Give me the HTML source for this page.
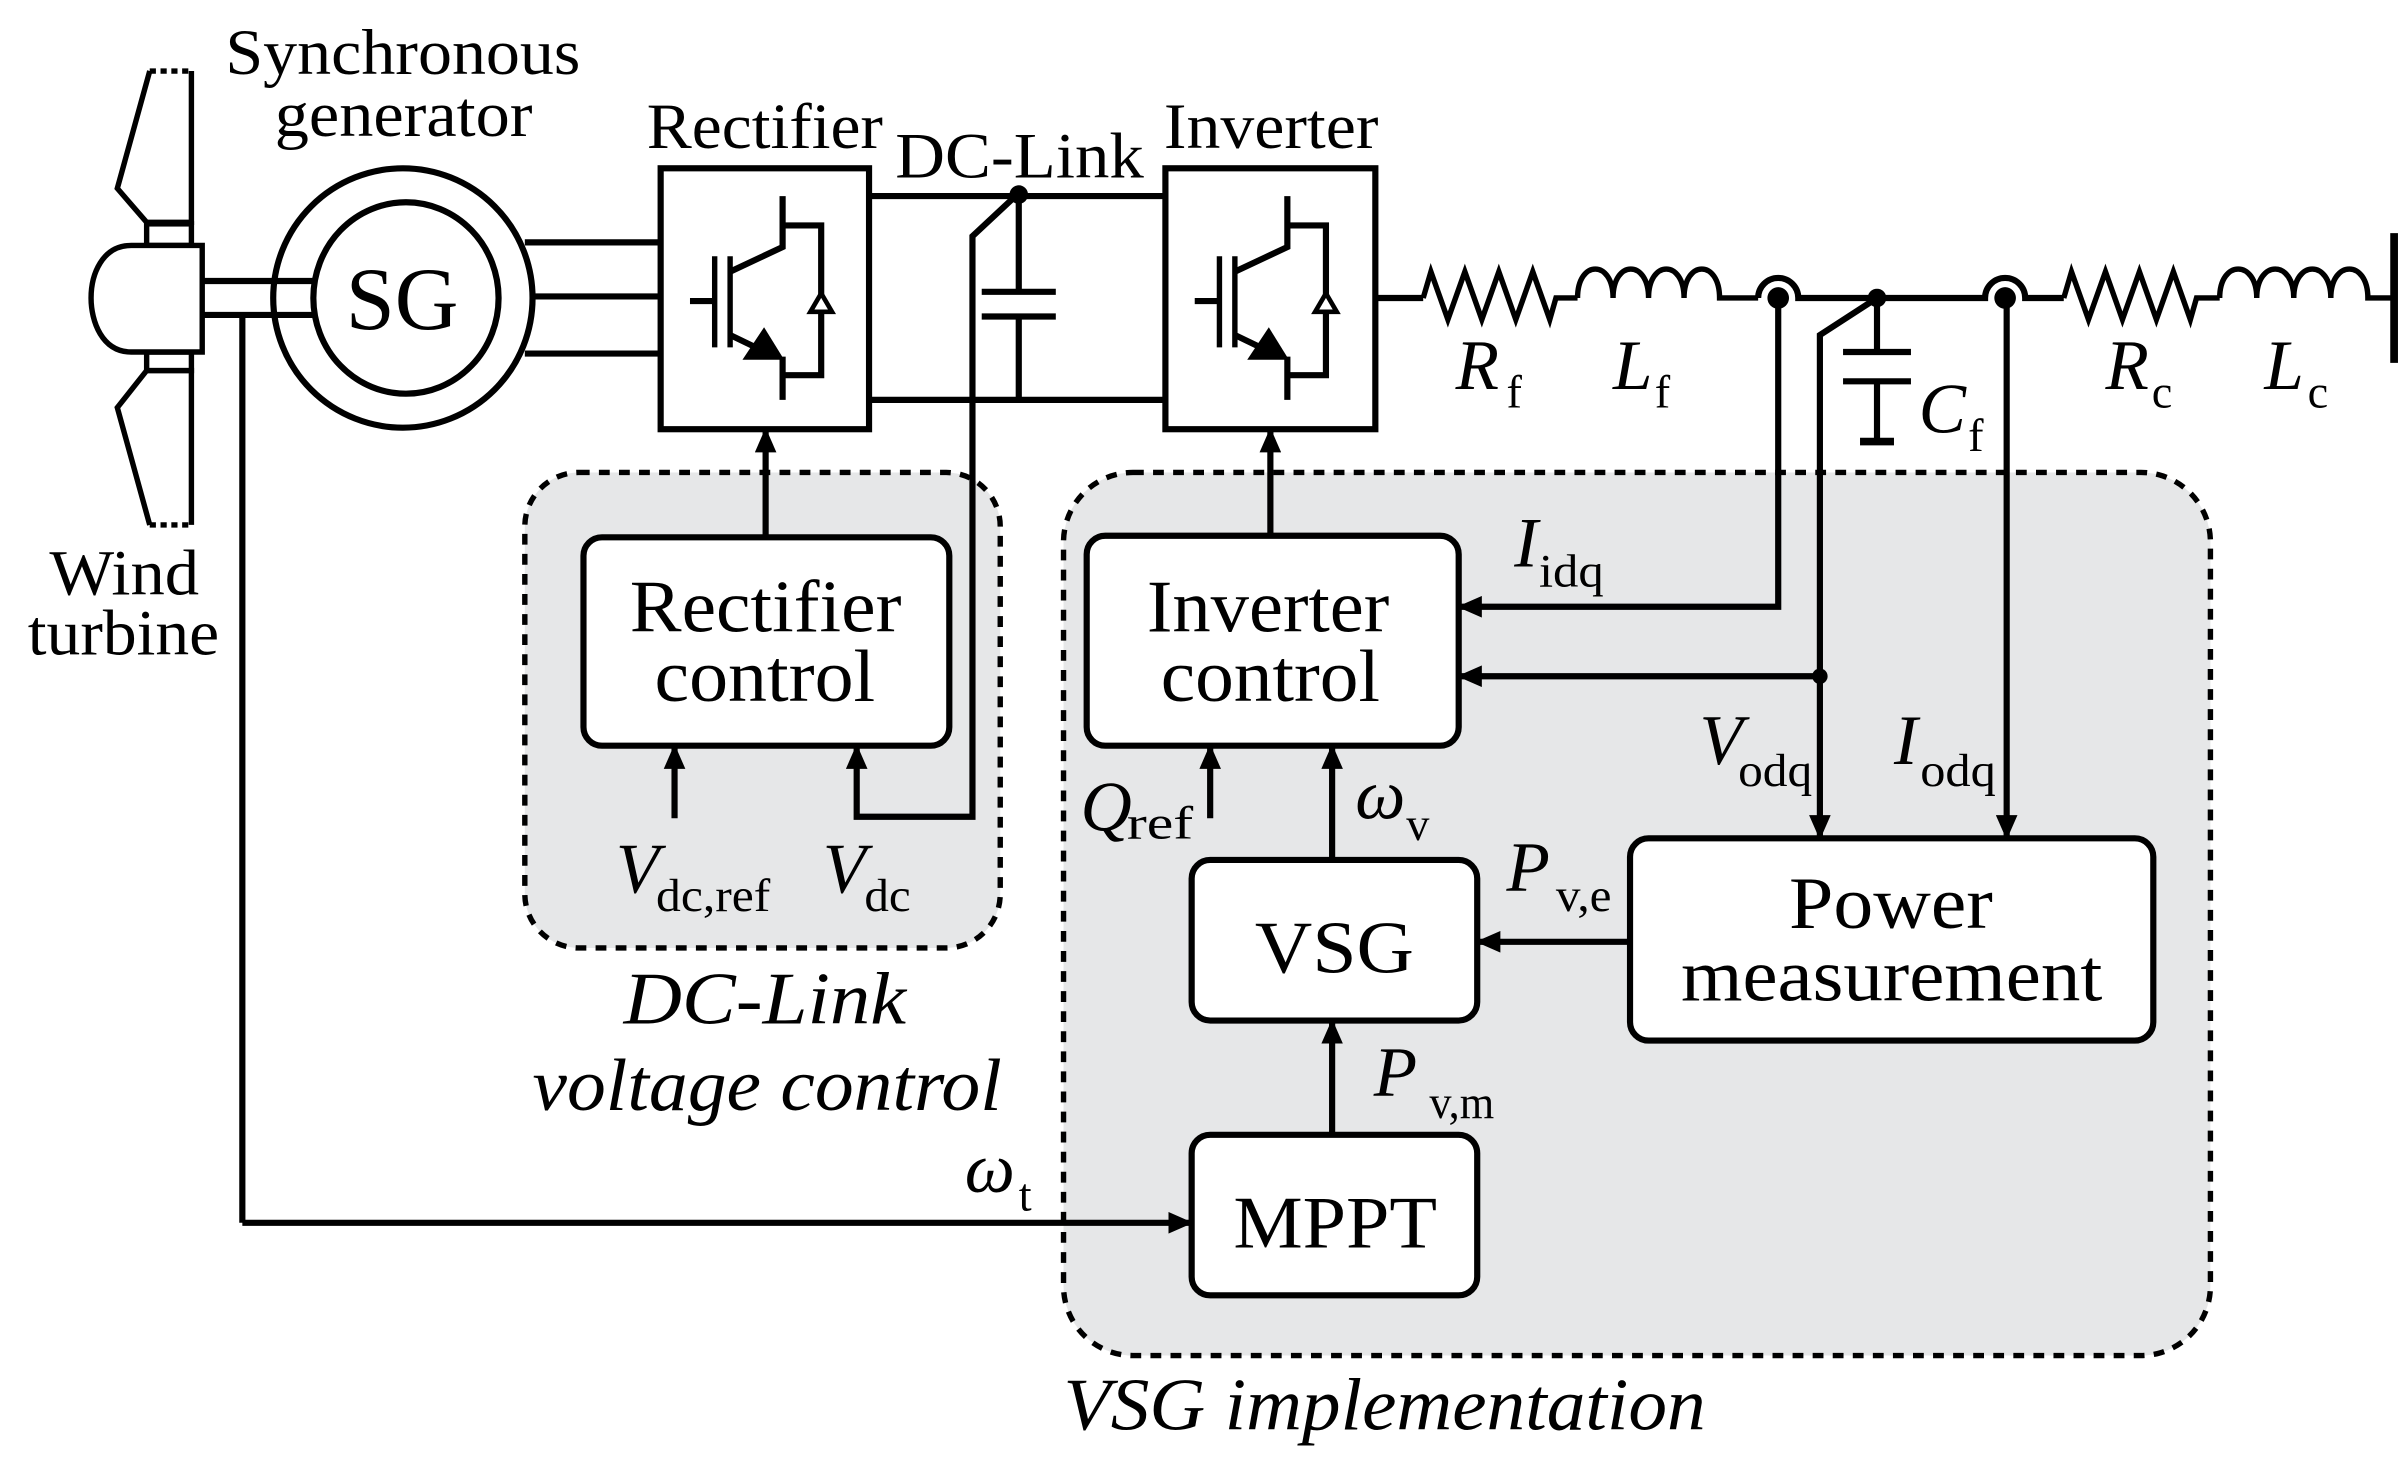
<!DOCTYPE html>
<html><head><meta charset="utf-8"><style>
html,body{margin:0;padding:0;background:#fff;}
svg{display:block;}
text{font-family:"Liberation Serif","Times New Roman",serif;fill:#000;}
</style></head><body>
<svg width="2408" height="1459" viewBox="0 0 1560 945" preserveAspectRatio="none" xmlns="http://www.w3.org/2000/svg">
<defs>
<marker id="ar" markerWidth="16" markerHeight="14" refX="15" refY="7" orient="auto" markerUnits="userSpaceOnUse"><path d="M0,0 L16,7 L0,14 z" fill="#000"/></marker>
<g id="igbt" stroke="#000" stroke-width="4" fill="none">
<line x1="447" y1="195" x2="463" y2="195"/>
<line x1="463" y1="166" x2="463" y2="225" stroke-width="3.5"/>
<line x1="473" y1="166" x2="473" y2="225" stroke-width="3.5"/>
<polyline points="473,176 507,160 507,127"/>
<polyline points="473,217 500,230"/>
<line x1="507" y1="231" x2="507" y2="259"/>
<polyline points="507,146 532,146 532,243 507,243"/>
<polygon points="481,233 508,233 495,212" fill="#000" stroke="none"/>
<polygon points="525,202 539,202 532,190" fill="#fff" stroke-width="3"/>
</g>
</defs>
<g stroke="#000" stroke-width="4" fill="none">
<!-- regions -->
<rect x="340" y="306" width="308" height="308" rx="35" fill="#e6e7e8" stroke-dasharray="7,6" stroke-width="3.5"/>
<rect x="689" y="306" width="743" height="572" rx="45" fill="#e6e7e8" stroke-dasharray="7,6" stroke-width="3.5"/>
<!-- turbine -->
<polyline points="97,46 76,122 95,144 124,144 124,46" stroke-width="3.5"/>
<line x1="97" y1="46" x2="124" y2="46" stroke-dasharray="4,3" stroke-width="3.5"/>
<polyline points="97,340 76,264 95,240 124,240 124,340" stroke-width="3.5"/>
<line x1="97" y1="340" x2="124" y2="340" stroke-dasharray="4,3" stroke-width="3.5"/>
<rect x="95" y="145" width="29" height="14" stroke-width="3.5" fill="#fff"/>
<rect x="95" y="228" width="29" height="12" stroke-width="3.5" fill="#fff"/>
<path d="M131,159 L85,159 C66,159 59,178 59,193 C59,208 66,228 85,228 L131,228 Z" fill="#fff" stroke-width="3.5"/>
<line x1="131" y1="182" x2="203" y2="182"/>
<line x1="131" y1="204" x2="203" y2="204"/>
<line x1="157" y1="204" x2="157" y2="792"/>
<polyline points="157,792 772,792" marker-end="url(#ar)"/>
<!-- SG -->
<ellipse cx="261" cy="193" rx="84" ry="84" fill="none"/>
<ellipse cx="263" cy="193" rx="60" ry="62" fill="#fff"/>
<line x1="340" y1="157" x2="428" y2="157"/>
<line x1="345" y1="192" x2="428" y2="192"/>
<line x1="340" y1="229" x2="428" y2="229"/>
<!-- rectifier / inverter -->
<rect x="428" y="109" width="135" height="169"/>
<rect x="755" y="109" width="136" height="169"/>
<line x1="563" y1="127" x2="755" y2="127"/>
<line x1="563" y1="259" x2="755" y2="259"/>
<line x1="660" y1="125" x2="660" y2="189"/>
<line x1="636" y1="189" x2="684" y2="189"/>
<line x1="636" y1="205" x2="684" y2="205"/>
<line x1="660" y1="205" x2="660" y2="259"/>
<polyline points="660,125 630,153 630,529 555,529 555,483" marker-end="url(#ar)"/>
<line x1="437" y1="530" x2="437" y2="483" marker-end="url(#ar)"/>
<line x1="496" y1="348" x2="496" y2="278" marker-end="url(#ar)"/>
<line x1="823" y1="347" x2="823" y2="278" marker-end="url(#ar)"/>
<!-- line -->
<line x1="891" y1="193" x2="922" y2="193"/>
<polyline points="922,193 927,176 938,207 949,176 960,207 971,176 982,207 993,176 1004,207 1008,193 1022,193" stroke-width="3.5"/>
<path d="M1022,193 C1022,168 1045,168 1045,193 C1045,168 1068,168 1068,193 C1068,168 1091,168 1091,193 C1091,168 1114,168 1114,193 L1139,193" stroke-width="3.5"/>
<path d="M1139,193 A13,13 0 0 1 1165,193 L1286,193 A13,13 0 0 1 1312,193 L1337,193"/>
<polyline points="1337,193 1342,176 1353,207 1364,176 1375,207 1386,176 1397,207 1408,176 1419,207 1423,193 1438,193" stroke-width="3.5"/>
<path d="M1438,193 C1438,168 1462,168 1462,193 C1462,168 1486,168 1486,193 C1486,168 1510,168 1510,193 C1510,168 1534,168 1534,193 L1551,193" stroke-width="3.5"/>
<line x1="1551" y1="151" x2="1551" y2="235" stroke-width="5"/>
<line x1="1216" y1="193" x2="1216" y2="228"/>
<line x1="1194" y1="228" x2="1238" y2="228"/>
<line x1="1194" y1="247" x2="1238" y2="247"/>
<line x1="1216" y1="247" x2="1216" y2="286"/>
<line x1="1205" y1="286" x2="1227" y2="286" stroke-width="5"/>
<!-- feedback -->
<polyline points="1152,193 1152,393 945,393" marker-end="url(#ar)"/>
<polyline points="1216,193 1179,217 1179,543" marker-end="url(#ar)"/>
<line x1="1179" y1="438" x2="945" y2="438" marker-end="url(#ar)"/>
<line x1="1300" y1="193" x2="1300" y2="543" marker-end="url(#ar)"/>
<!-- control boxes -->
<rect x="378" y="348" width="237" height="135" rx="12" fill="#fff"/>
<rect x="704" y="347" width="241" height="136" rx="12" fill="#fff"/>
<rect x="1056" y="543" width="339" height="131" rx="12" fill="#fff"/>
<rect x="772" y="557" width="185" height="104" rx="12" fill="#fff"/>
<rect x="772" y="735" width="185" height="104" rx="12" fill="#fff"/>
<line x1="1056" y1="610" x2="957" y2="610" marker-end="url(#ar)"/>
<line x1="863" y1="557" x2="863" y2="483" marker-end="url(#ar)"/>
<line x1="784" y1="530" x2="784" y2="483" marker-end="url(#ar)"/>
<line x1="863" y1="735" x2="863" y2="661" marker-end="url(#ar)"/>
</g>
<g fill="#000">
<circle cx="660" cy="126" r="6"/>
<circle cx="1152" cy="193" r="7"/>
<circle cx="1216" cy="193" r="6"/>
<circle cx="1299" cy="193" r="7"/>
<circle cx="1179" cy="438" r="5"/>
</g>
<use href="#igbt"/>
<use href="#igbt" transform="translate(327,0)"/>
<!-- text -->
<g font-size="42" lengthAdjust="spacingAndGlyphs">
<text x="146" y="48" textLength="230" lengthAdjust="spacingAndGlyphs">Synchronous</text>
<text x="178" y="88" textLength="167" lengthAdjust="spacingAndGlyphs">generator</text>
<text x="419" y="96" textLength="153" lengthAdjust="spacingAndGlyphs">Rectifier</text>
<text x="580" y="115" textLength="161" lengthAdjust="spacingAndGlyphs">DC-Link</text>
<text x="754" y="96" textLength="139" lengthAdjust="spacingAndGlyphs">Inverter</text>
<text x="32" y="385" textLength="97" lengthAdjust="spacingAndGlyphs">Wind</text>
<text x="18" y="424" textLength="124" lengthAdjust="spacingAndGlyphs">turbine</text>
</g>
<text x="224" y="213" font-size="58" textLength="73" lengthAdjust="spacingAndGlyphs">SG</text>
<g font-size="48">
<text x="408" y="409" textLength="176" lengthAdjust="spacingAndGlyphs">Rectifier</text>
<text x="424" y="454" textLength="143" lengthAdjust="spacingAndGlyphs">control</text>
<text x="743" y="409" textLength="157" lengthAdjust="spacingAndGlyphs">Inverter</text>
<text x="752" y="454" textLength="142" lengthAdjust="spacingAndGlyphs">control</text>
<text x="1159" y="601" textLength="132" lengthAdjust="spacingAndGlyphs">Power</text>
<text x="1089" y="648" textLength="273" lengthAdjust="spacingAndGlyphs">measurement</text>
<text x="813" y="630" textLength="103" lengthAdjust="spacingAndGlyphs">VSG</text>
<text x="799" y="808" textLength="132" lengthAdjust="spacingAndGlyphs">MPPT</text>
<text x="404" y="663" font-style="italic" textLength="183" lengthAdjust="spacingAndGlyphs">DC-Link</text>
<text x="345" y="719" font-style="italic" textLength="304" lengthAdjust="spacingAndGlyphs">voltage control</text>
<text x="689" y="926" font-style="italic" textLength="416" lengthAdjust="spacingAndGlyphs">VSG implementation</text>
</g>
<g font-size="46" font-style="italic">
<text x="943" y="252">R</text>
<text x="1045" y="252">L</text>
<text x="1243" y="280">C</text>
<text x="1364" y="252">R</text>
<text x="1467" y="252">L</text>
<text x="399" y="578">V</text>
<text x="533" y="578">V</text>
<text x="981" y="367">I</text>
<text x="1101" y="495">V</text>
<text x="1227" y="495">I</text>
<text x="700" y="538">Q</text>
<text x="878" y="530">ω</text>
<text x="976" y="577">P</text>
<text x="890" y="710">P</text>
<text x="625" y="772">ω</text>
</g>
<g font-size="30">
<text x="976" y="264">f</text>
<text x="1072" y="264">f</text>
<text x="1275" y="292">f</text>
<text x="1394" y="264">c</text>
<text x="1495" y="264">c</text>
<text x="425" y="590" textLength="74" lengthAdjust="spacingAndGlyphs">dc,ref</text>
<text x="560" y="590" textLength="30" lengthAdjust="spacingAndGlyphs">dc</text>
<text x="997" y="380" textLength="42" lengthAdjust="spacingAndGlyphs">idq</text>
<text x="1126" y="509" textLength="48" lengthAdjust="spacingAndGlyphs">odq</text>
<text x="1244" y="509" textLength="49" lengthAdjust="spacingAndGlyphs">odq</text>
<text x="730" y="543" textLength="43" lengthAdjust="spacingAndGlyphs">ref</text>
<text x="911" y="544">v</text>
<text x="1008" y="590" textLength="36" lengthAdjust="spacingAndGlyphs">v,e</text>
<text x="926" y="724" textLength="42" lengthAdjust="spacingAndGlyphs">v,m</text>
<text x="660" y="784">t</text>
</g>
</svg>
</body></html>
